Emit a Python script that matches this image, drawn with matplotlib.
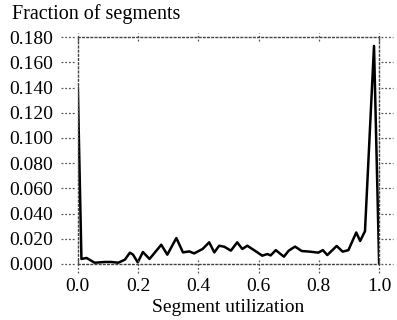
# Fraction of segments vs segment utilization

import numpy as np
import matplotlib.pyplot as plt
from matplotlib.ticker import FormatStrFormatter

# values
util = [0.0, 0.012, 0.029, 0.056, 0.09, 0.112, 0.134, 0.156, 0.173, 0.183,
        0.199, 0.216, 0.238, 0.277, 0.297, 0.327, 0.349, 0.37, 0.386, 0.414,
        0.436, 0.453, 0.469, 0.486, 0.508, 0.529, 0.546, 0.5625, 0.596, 0.612,
        0.629, 0.64, 0.657, 0.684, 0.70, 0.721, 0.743, 0.77, 0.798, 0.813,
        0.828, 0.859, 0.879, 0.898, 0.924, 0.937, 0.953, 0.983, 1.0]
frac = [0.140, 0.004, 0.0048, 0.001, 0.0016, 0.0016, 0.001, 0.0034, 0.009, 0.0075,
        0.0013, 0.0095, 0.004, 0.0153, 0.0074, 0.0206, 0.0092, 0.010, 0.0084, 0.0119,
        0.0172, 0.0092, 0.0145, 0.0137, 0.0106, 0.0172, 0.0119, 0.0145, 0.0092, 0.0066,
        0.0079, 0.0068, 0.011, 0.0058, 0.0106, 0.0138, 0.0103, 0.0098, 0.009, 0.011,
        0.0071, 0.0143, 0.0098, 0.011, 0.025, 0.0183, 0.026, 0.173, 0.0]
xticks = [0.0, 0.2, 0.4, 0.6, 0.8, 1.0]
yticks = [0.0, 0.02, 0.04, 0.06, 0.08, 0.10, 0.12, 0.14, 0.16, 0.18]

plt.rcParams['font.family'] = ['Liberation Serif', 'DejaVu Serif']

fig = plt.figure(figsize=(3.97, 3.2), dpi=100)
ax = fig.add_axes([0.196, 0.175, 0.759, 0.709])

ax.plot(util, frac, '-', color='black', lw=1.8)

ax.set_xlim(0, 1.0)
ax.set_ylim(0, 0.18)
ax.set_xticks(xticks)
ax.set_yticks(yticks)
ax.xaxis.set_major_formatter(FormatStrFormatter('%.1f'))
ax.yaxis.set_major_formatter(FormatStrFormatter('%.3f'))

for s in ax.spines.values():
    s.set_linestyle((0, (1.2, 1.8)))
    s.set_linewidth(1.0)
    s.set_color('#444444')

# dotted tick marks drawn by hand (printed-figure look)
tick_style = dict(ls=(0, (1.5, 1.5)), lw=0.9, color='#555555', clip_on=False)
ytr = ax.get_yaxis_transform()
xtr = ax.get_xaxis_transform()
for v in yticks:
    ax.plot([-0.055, -0.01], [v, v], transform=ytr, **tick_style)
    ax.plot([1.005, 1.045], [v, v], transform=ytr, **tick_style)
for v in xticks:
    ax.plot([v, v], [-0.04, 0.018], transform=xtr, **tick_style)
    ax.plot([v, v], [0.982, 1.018], transform=xtr, **tick_style)

ax.tick_params(axis='x', length=0, labelsize=14, pad=10)
ax.tick_params(axis='y', length=0, labelsize=14, pad=18)

ax.set_xlabel("Segment utilization", fontsize=14, labelpad=3)
fig.text(0.03, 0.955, "Fraction of segments", fontsize=14.5, ha='left', va='center')

plt.savefig("out.png", dpi=100)
